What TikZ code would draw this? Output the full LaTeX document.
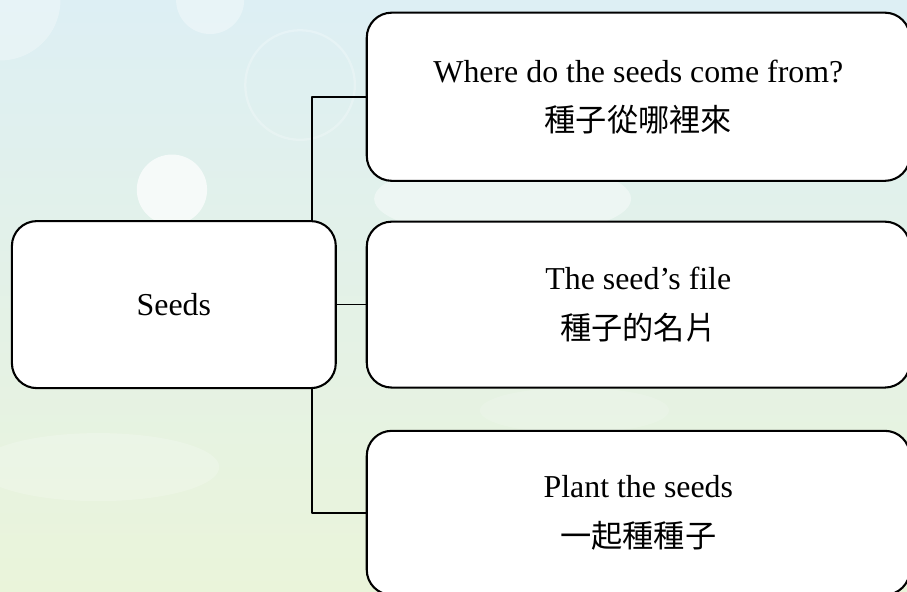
\documentclass[tikz,border=0pt]{standalone}
\usepackage{fontspec}
\setmainfont{Liberation Serif}
\newfontfamily\cjk{Noto Sans CJK TC}
\usetikzlibrary{positioning}

\definecolor{skytop}{RGB}{221,239,244}
\definecolor{skymid}{RGB}{220,237,231}
\definecolor{grassbottom}{RGB}{234,244,218}

\begin{document}
\begin{tikzpicture}[line cap=round, line join=round,
  topic/.style={draw=black, fill=white, line width=0.055cm, rounded corners=0.66cm,
    align=center, inner sep=0pt, font=\fontsize{24}{37}\selectfont},
  link/.style={line width=0.04cm}]

\clip (0,0) rectangle (24,15.66);
\shade[top color=skytop, middle color=skymid, bottom color=grassbottom] (0,0) rectangle (24,15.66);
% soft light spots
\fill[white, opacity=0.3] (0,15.66) circle (1.6);
\fill[white, opacity=0.35] (5.56,15.66) circle (0.9);
\fill[white, opacity=0.7] (4.55,10.64) circle (0.93);
\draw[white, opacity=0.25, line width=0.06cm] (7.94,13.41) circle (1.45);
\fill[white, opacity=0.2] (2.6,3.3) ellipse (3.2 and 0.9);
\fill[white, opacity=0.4] (13.3,10.4) ellipse (3.4 and 1.0);
\fill[white, opacity=0.15] (15.2,4.8) ellipse (2.5 and 0.6);

\node[topic, minimum width=8.57cm, minimum height=4.42cm] (seeds) at (4.60,7.6) {Seeds};
\node[topic, minimum width=14.37cm, minimum height=4.45cm] (origin) at (16.89,13.10)
  {Where do the seeds come from?\\{\cjk\fontsize{23.5}{37}\selectfont 種子從哪裡來}};
\node[topic, minimum width=14.37cm, minimum height=4.39cm] (profile) at (16.89,7.6)
  {The seed’s file\\{\cjk\fontsize{23.5}{37}\selectfont 種子的名片}};
\node[topic, minimum width=14.37cm, minimum height=4.34cm] (planting) at (16.89,2.09)
  {Plant the seeds\\{\cjk\fontsize{23.5}{37}\selectfont 一起種種子}};

\coordinate (trunk) at (8.25,7.6);
\draw[link] (seeds.north -| trunk) |- (origin.west);
\draw[link] (seeds.east) -- (profile.west);
\draw[link] (seeds.south -| trunk) |- (planting.west);

\end{tikzpicture}
\end{document}
